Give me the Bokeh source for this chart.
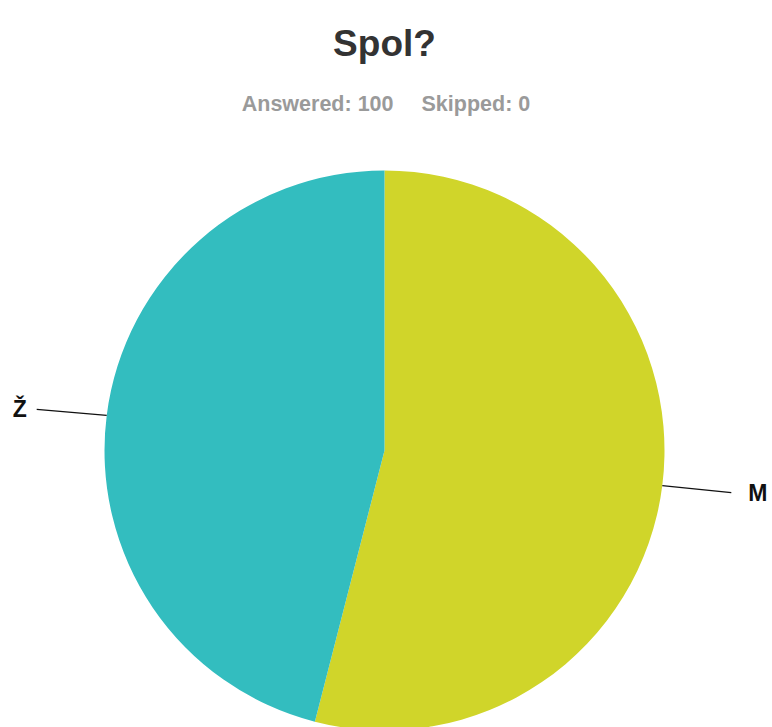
import math
from bokeh.plotting import figure
from bokeh.models import Range1d
from bokeh.core.properties import value
from bokeh.embed import file_html
from bokeh.resources import INLINE

title = "Spol?"
answered = 100
skipped = 0
categories = ["M", "Ž"]
counts = [54, 46]
colors = ["#D0D52A", "#33BDBF"]

W, H = 772, 727
p = figure(width=W, height=H, output_backend="svg", toolbar_location=None,
           x_range=Range1d(0, W), y_range=Range1d(0, H), min_border=0,
           outline_line_color=None)
p.axis.visible = False
p.grid.visible = False
p.background_fill_color = "white"

def sx(x):
    return x

def sy(y):
    return H - y

cx, cy, r = sx(384), sy(450), 280
total = sum(counts)
start = math.pi / 2
starts, ends, mids = [], [], []
for c in counts:
    span = 2 * math.pi * c / total
    end = start - span
    starts.append(end)
    ends.append(start)
    mids.append((start + end) / 2)
    start = end

p.wedge(x=[cx] * len(counts), y=[cy] * len(counts), radius=r,
        start_angle=starts, end_angle=ends, fill_color=colors,
        line_color=None)

# leader lines and labels
for cat, m in zip(categories, mids):
    ex = cx + r * math.cos(m)
    ey = cy + r * math.sin(m)
    if math.cos(m) >= 0:
        lx, ly = ex + 69, ey - 7
        p.line([ex, lx], [ey, ly], line_color="#111111", line_width=1.3)
        p.text([lx + 17], [ly], text=[cat], text_font=value("Liberation Sans"),
               text_font_style="bold", text_font_size="23px",
               text_align="left", text_baseline="middle", text_color="#111111")
    else:
        lx, ly = ex - 70, ey + 6
        p.line([ex, lx], [ey, ly], line_color="#111111", line_width=1.3)
        p.text([lx - 10], [ly], text=[cat], text_font=value("Liberation Sans"),
               text_font_style="bold", text_font_size="23px",
               text_align="right", text_baseline="middle", text_color="#111111")

p.text([sx(384)], [sy(43)], text=[title], text_font=value("Liberation Sans"),
       text_font_style="bold", text_font_size="37px", text_align="center",
       text_baseline="alphabetic", text_color="#333333")
p.text([sx(393)], [sy(103)], text=[f"Answered: {answered}"],
       text_font=value("Liberation Sans"), text_font_style="bold",
       text_font_size="21.5px", text_align="right", text_baseline="alphabetic",
       text_color="#9a9a9a")
p.text([sx(421)], [sy(103)], text=[f"Skipped: {skipped}"],
       text_font=value("Liberation Sans"), text_font_style="bold",
       text_font_size="21.5px", text_align="left", text_baseline="alphabetic",
       text_color="#9a9a9a")

open("out.html", "w").write(file_html(p, INLINE))
